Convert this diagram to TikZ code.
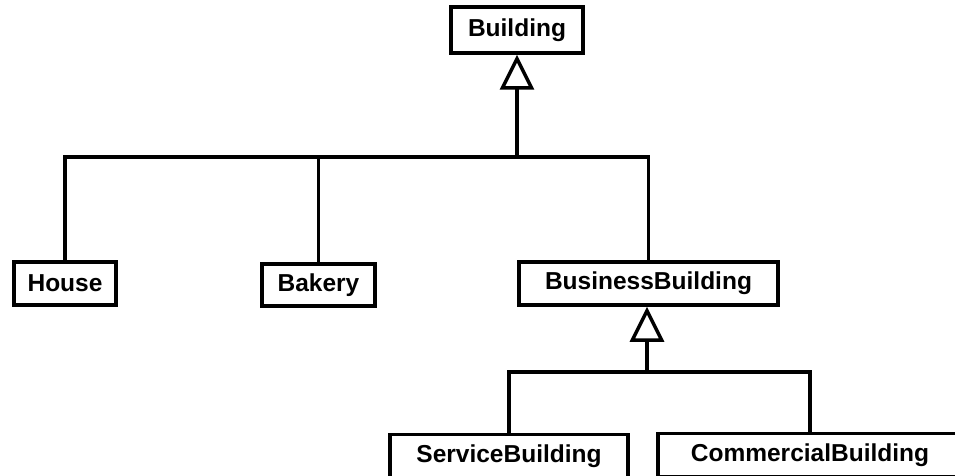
\documentclass[tikz,border=0pt]{standalone}
\usepackage{fontspec}
\setmainfont{Liberation Sans}
\usetikzlibrary{arrows.meta}
\begin{document}
\begin{tikzpicture}[x=1pt,y=-1pt,
  classbox/.style={draw=black, line width=3.5pt, fill=white, inner sep=0pt,
    font=\fontsize{24.5}{28}\selectfont\bfseries, text=black},
  link/.style={draw=black, line width=3.5pt, line join=miter},
  inherit/.style={link, -{Triangle[open, length=35pt, width=34pt, line join=miter]}}]
  \useasboundingbox (0,0) rectangle (955,476);
  \clip (0,0) rectangle (955,476);

  % class boxes
  \node[classbox, minimum width=132pt, minimum height=46pt] (building) at (517,30) {Building};
  \node[classbox, minimum width=102pt, minimum height=43pt] (house) at (65,283.5) {House};
  \node[classbox, minimum width=113pt, minimum height=42pt] (bakery) at (318.5,285) {Bakery};
  \node[classbox, minimum width=259pt, minimum height=43pt] (business) at (648.5,283.5) {BusinessBuilding};
  \node[classbox, minimum width=238pt, minimum height=43pt] (service) at (509,456) {ServiceBuilding};
  \node[classbox, minimum width=304pt, minimum height=43pt] (commercial) at (810,455) {CommercialBuilding};

  % junction points of the two hierarchies
  \coordinate (j1) at (517,157);
  \coordinate (j2) at (647,372);

  % generalisation from House, Bakery, BusinessBuilding to Building
  \draw[inherit] (j1) -- (building.south);
  \draw[link] (house.north) |- (business.north |- j1) -- (business.north);
  \draw[link] (bakery.north) -- (bakery.north |- j1);

  % generalisation from ServiceBuilding, CommercialBuilding to BusinessBuilding
  \draw[inherit] (j2) -- (j2 |- business.south);
  \draw[link] (service.north) |- (commercial.north |- j2) -- (commercial.north);
\end{tikzpicture}
\end{document}
